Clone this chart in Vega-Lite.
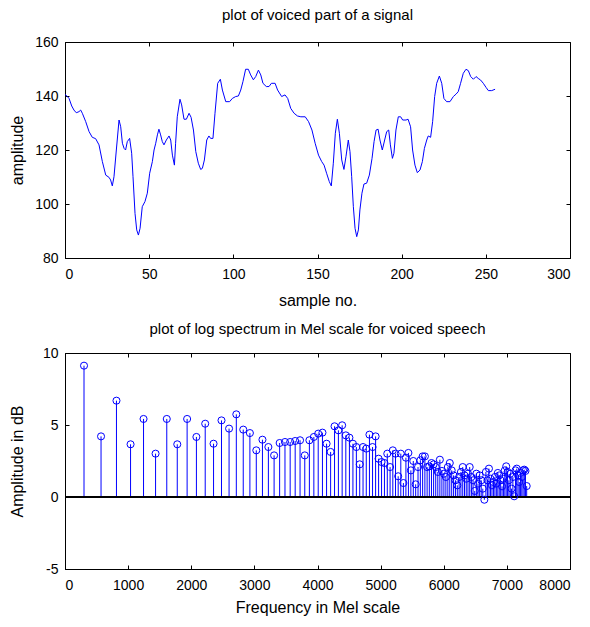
{
  "$schema": "https://vega.github.io/schema/vega-lite/v6.json",
  "autosize": {"type": "pad"},
  "padding": {"left": 8, "top": 7, "right": 5, "bottom": 3},
  "bounds": "flush",
  "spacing": 95,
  "background": "white",
  "config": {
    "font": "Liberation Sans",
    "view": {"stroke": "#000000", "strokeWidth": 1},
    "axis": {
      "grid": false, "domainColor": "#000000", "tickColor": "#000000",
      "labelColor": "#000000", "titleColor": "#000000",
      "labelFont": "Liberation Sans", "titleFont": "Liberation Sans",
      "labelFontSize": 14, "titleFontSize": 16, "titleFontWeight": "normal",
      "tickSize": -4
    },
    "axisX": {"labelPadding": 13},
    "axisY": {"labelPadding": 11},
    "title": {"font": "Liberation Sans", "fontSize": 15, "fontWeight": "normal", "color": "#000000"}
  },
  "datasets": {
    "signal": [
      {"n":0,"a":140.6},{"n":1.4,"a":139.8},{"n":2.4,"a":139.1},{"n":4,"a":136.3},{"n":5.3,"a":134.8},{"n":6.7,"a":133.8},{"n":8.3,"a":134.2},{"n":9.3,"a":134.8},{"n":10.3,"a":133.6},{"n":12.3,"a":130.5},{"n":14.3,"a":126.8},{"n":16.2,"a":124.7},{"n":18.2,"a":124.2},{"n":20.2,"a":121.9},{"n":22.2,"a":115.7},{"n":24.2,"a":110.7},{"n":26.1,"a":109.9},{"n":27.1,"a":108.9},{"n":28.1,"a":106.7},{"n":29.1,"a":110.1},{"n":30.5,"a":120},{"n":32.1,"a":131.1},{"n":33.1,"a":128.6},{"n":34.1,"a":122.5},{"n":35.1,"a":120.6},{"n":36,"a":120},{"n":37,"a":123.1},{"n":38.4,"a":124.3},{"n":39.6,"a":118.8},{"n":40.4,"a":110.1},{"n":41.6,"a":96.5},{"n":42.6,"a":90.4},{"n":43.6,"a":88.5},{"n":44.6,"a":91},{"n":45.9,"a":99},{"n":47.5,"a":100.9},{"n":48.9,"a":104},{"n":50.3,"a":111.4},{"n":51.9,"a":115.7},{"n":52.9,"a":120},{"n":53.9,"a":122.5},{"n":54.9,"a":125.6},{"n":55.8,"a":127.7},{"n":56.8,"a":125.6},{"n":57.8,"a":123.1},{"n":58.8,"a":121.9},{"n":60.2,"a":123.7},{"n":61.8,"a":125.2},{"n":62.8,"a":123.7},{"n":63.8,"a":118.1},{"n":65,"a":114.4},{"n":65.7,"a":122.5},{"n":66.7,"a":132.3},{"n":68.3,"a":138.8},{"n":69.3,"a":136.7},{"n":70.7,"a":131.4},{"n":72.1,"a":131.4},{"n":73.7,"a":133.6},{"n":74.9,"a":132.1},{"n":76.3,"a":127.4},{"n":77.7,"a":119.4},{"n":79.2,"a":115.1},{"n":80.6,"a":112.8},{"n":81.6,"a":113.2},{"n":82.8,"a":116.3},{"n":84.2,"a":123.7},{"n":85.5,"a":125.2},{"n":86.5,"a":124.3},{"n":87.9,"a":124.3},{"n":89.1,"a":133.6},{"n":90.7,"a":144.7},{"n":92.3,"a":146.2},{"n":93.5,"a":142.2},{"n":95.5,"a":137.9},{"n":97.8,"a":137.9},{"n":99.4,"a":139.1},{"n":101.4,"a":139.8},{"n":103,"a":140},{"n":104.4,"a":142.2},{"n":105.7,"a":145.3},{"n":107.3,"a":149.9},{"n":108.9,"a":149.9},{"n":110.3,"a":147.8},{"n":111.9,"a":146},{"n":113.3,"a":147.2},{"n":114.9,"a":149.6},{"n":116.3,"a":147.8},{"n":117.6,"a":144.7},{"n":119.6,"a":143.5},{"n":121.2,"a":143.5},{"n":122.6,"a":144.7},{"n":124.8,"a":144.7},{"n":126.3,"a":142.2},{"n":128.7,"a":139.8},{"n":130.7,"a":140.4},{"n":132.3,"a":139.1},{"n":134.1,"a":135.4},{"n":136.1,"a":133.6},{"n":138.1,"a":132.6},{"n":140.1,"a":132.3},{"n":142.7,"a":132.3},{"n":144.7,"a":130.5},{"n":146.7,"a":127.4},{"n":148.6,"a":122.5},{"n":150.6,"a":118.1},{"n":152.5,"a":115.7},{"n":153.9,"a":114.4},{"n":155.4,"a":111.4},{"n":157,"a":108.3},{"n":158.2,"a":106.7},{"n":159.4,"a":115.1},{"n":160.6,"a":126.2},{"n":161.8,"a":131.4},{"n":163,"a":126.2},{"n":164.4,"a":116.3},{"n":165.7,"a":112.8},{"n":166.9,"a":117.5},{"n":168.3,"a":123.7},{"n":169.3,"a":119.4},{"n":170.3,"a":110.1},{"n":171.3,"a":99},{"n":172.3,"a":91},{"n":173.3,"a":87.9},{"n":174.3,"a":90.4},{"n":175.2,"a":97.8},{"n":176.4,"a":104},{"n":177.6,"a":107.4},{"n":179.2,"a":107.7},{"n":180.8,"a":110.7},{"n":182.4,"a":116.9},{"n":183.6,"a":123.1},{"n":184.8,"a":127.4},{"n":186,"a":127.7},{"n":187.1,"a":123.7},{"n":188.5,"a":120},{"n":189.9,"a":123.7},{"n":191.1,"a":126.8},{"n":192.3,"a":127.4},{"n":193.3,"a":121.9},{"n":194.5,"a":116.9},{"n":195.4,"a":118.8},{"n":196.6,"a":127.4},{"n":198,"a":132.3},{"n":199.4,"a":132.3},{"n":200.6,"a":131.1},{"n":202.6,"a":131.1},{"n":203.8,"a":131.4},{"n":205.3,"a":128.6},{"n":206.5,"a":120},{"n":207.9,"a":114.4},{"n":209.3,"a":111.6},{"n":210.9,"a":112.6},{"n":212.3,"a":115.7},{"n":213.5,"a":120.6},{"n":214.9,"a":123.7},{"n":215.8,"a":125.2},{"n":217.2,"a":124.7},{"n":218.4,"a":130.5},{"n":219.6,"a":139.8},{"n":220.8,"a":144.7},{"n":222.4,"a":147.4},{"n":223.8,"a":144.7},{"n":225.1,"a":139.1},{"n":226.7,"a":137.9},{"n":228.7,"a":137.9},{"n":230.7,"a":139.8},{"n":232.3,"a":140.7},{"n":233.6,"a":141.6},{"n":235,"a":144.7},{"n":236.6,"a":148.4},{"n":238.2,"a":149.9},{"n":239.6,"a":149.4},{"n":241,"a":147.2},{"n":242.6,"a":146.2},{"n":244.2,"a":147.2},{"n":245.5,"a":146.5},{"n":246.9,"a":145.9},{"n":248.5,"a":144.7},{"n":250.1,"a":143.2},{"n":251.5,"a":142},{"n":253.5,"a":142},{"n":255.5,"a":142.5}
    ],
    "spectrum": [
      {"mel":301.2,"db":9.12},{"mel":570.9,"db":4.21},{"mel":815.3,"db":6.69},{"mel":1038.6,"db":3.66},{"mel":1244.3,"db":5.42},{"mel":1434.8,"db":3.01},{"mel":1612.2,"db":5.42},{"mel":1778.4,"db":3.66},{"mel":1934.5,"db":5.42},{"mel":2081.7,"db":4.17},
      {"mel":2221.1,"db":5.09},{"mel":2353.3,"db":3.7},{"mel":2479.2,"db":5.32},{"mel":2599.2,"db":4.75},{"mel":2713.9,"db":5.74},{"mel":2823.7,"db":4.68},{"mel":2929.1,"db":4.44},{"mel":3030.4,"db":3.24},{"mel":3127.9,"db":3.98},{"mel":3221.8,"db":3.47},
      {"mel":3312.5,"db":2.89},{"mel":3400.1,"db":3.75},{"mel":3484.8,"db":3.82},{"mel":3566.9,"db":3.82},{"mel":3646.4,"db":3.89},{"mel":3723.6,"db":3.94},{"mel":3798.5,"db":2.89},{"mel":3871.4,"db":3.94},{"mel":3942.2,"db":4.17},{"mel":4011.2,"db":4.4},
      {"mel":4078.4,"db":4.47},{"mel":4143.8,"db":3.7},{"mel":4207.7,"db":3.13},{"mel":4270.1,"db":4.91},{"mel":4331.0,"db":4.63},{"mel":4390.4,"db":4.98},{"mel":4448.6,"db":4.28},{"mel":4505.5,"db":4.12},{"mel":4561.2,"db":3.7},{"mel":4615.7,"db":3.47},
      {"mel":4669.0,"db":2.27},{"mel":4721.3,"db":3.47},{"mel":4772.6,"db":3.36},{"mel":4822.8,"db":4.33},{"mel":4872.1,"db":3.47},{"mel":4920.5,"db":4.21},{"mel":4968.0,"db":2.66},{"mel":5014.7,"db":2.43},{"mel":5060.5,"db":2.36},{"mel":5105.5,"db":3.01},
      {"mel":5149.8,"db":2.08},{"mel":5193.3,"db":3.24},{"mel":5236.1,"db":3.01},{"mel":5278.2,"db":1.44},{"mel":5319.6,"db":3.01},{"mel":5360.4,"db":0.97},{"mel":5400.6,"db":2.73},{"mel":5440.1,"db":3.06},{"mel":5479.1,"db":1.85},{"mel":5517.4,"db":2.5},
      {"mel":5555.2,"db":0.88},{"mel":5592.5,"db":2.08},{"mel":5629.3,"db":2.55},{"mel":5665.5,"db":2.82},{"mel":5701.2,"db":2.82},{"mel":5736.5,"db":2.08},{"mel":5771.3,"db":2.13},{"mel":5805.6,"db":2.36},{"mel":5839.5,"db":2.27},{"mel":5872.9,"db":2.08},
      {"mel":5905.9,"db":1.74},{"mel":5938.5,"db":2.59},{"mel":5970.7,"db":1.81},{"mel":6002.4,"db":1.62},{"mel":6033.8,"db":1.39},{"mel":6064.9,"db":2.08},{"mel":6095.5,"db":2.36},{"mel":6125.9,"db":1.85},{"mel":6155.8,"db":1.5},{"mel":6185.4,"db":1.16},
      {"mel":6214.7,"db":0.81},{"mel":6243.7,"db":1.39},{"mel":6272.3,"db":1.74},{"mel":6300.7,"db":2.08},{"mel":6328.7,"db":1.5},{"mel":6356.4,"db":1.27},{"mel":6383.8,"db":1.62},{"mel":6411.0,"db":2.08},{"mel":6437.8,"db":1.39},{"mel":6464.4,"db":1.16},
      {"mel":6490.7,"db":0.42},{"mel":6516.8,"db":1.62},{"mel":6542.6,"db":0.93},{"mel":6568.1,"db":1.5},{"mel":6593.4,"db":1.16},{"mel":6618.4,"db":0.58},{"mel":6643.2,"db":-0.19},{"mel":6667.8,"db":1.74},{"mel":6692.1,"db":1.16},{"mel":6716.2,"db":1.97},
      {"mel":6740.1,"db":1.27},{"mel":6763.8,"db":0.81},{"mel":6787.2,"db":1.04},{"mel":6810.5,"db":1.39},{"mel":6833.5,"db":0.93},{"mel":6856.3,"db":1.67},{"mel":6879.0,"db":1.5},{"mel":6901.4,"db":1.16},{"mel":6923.6,"db":0.74},{"mel":6945.7,"db":1.27},
      {"mel":6967.6,"db":1.85},{"mel":6989.3,"db":2.13},{"mel":7010.8,"db":1.74},{"mel":7032.1,"db":1.16},{"mel":7053.3,"db":1.62},{"mel":7074.2,"db":0.58},{"mel":7095.1,"db":1.39},{"mel":7115.7,"db":0.05},{"mel":7136.3,"db":1.85},{"mel":7156.6,"db":1.97},
      {"mel":7176.8,"db":1.5},{"mel":7196.8,"db":1.04},{"mel":7216.6,"db":1.67},{"mel":7236.3,"db":1.39},{"mel":7255.9,"db":1.85},{"mel":7275.3,"db":1.9},{"mel":7294.6,"db":1.81},{"mel":7313.7,"db":0.76}
    ]
  },
  "vconcat": [
    {
      "width": 505,
      "height": 216,
      "title": {"text": "plot of voiced part of a signal", "offset": 12},
      "data": {"name": "signal"},
      "resolve": {"axis": {"x": "independent", "y": "independent"}},
      "layer": [
        {
          "mark": {"type": "line", "color": "#0000ff", "strokeWidth": 1, "interpolate": "linear"},
          "encoding": {
            "x": {"field": "n", "type": "quantitative", "scale": {"domain": [0, 300], "nice": false, "zero": false},
                  "axis": {"title": "sample no.", "values": [0, 50, 100, 150, 200, 250, 300], "titleY": 42, "titleBaseline": "middle"}},
            "y": {"field": "a", "type": "quantitative", "scale": {"domain": [80, 160], "nice": false, "zero": false},
                  "axis": {"title": "amplitude", "values": [80, 100, 120, 140, 160], "titleX": -48, "titleBaseline": "middle", "titleAlign": "center"}}
          }
        },
        {
          "mark": {"type": "point", "opacity": 0},
          "encoding": {
            "x": {"field": "n", "type": "quantitative", "axis": {"orient": "top", "labels": false, "title": null, "domain": false, "values": [0, 50, 100, 150, 200, 250, 300]}},
            "y": {"field": "a", "type": "quantitative", "axis": {"orient": "right", "labels": false, "title": null, "domain": false, "values": [80, 100, 120, 140, 160]}}
          }
        }
      ]
    },
    {
      "width": 505,
      "height": 216,
      "title": {"text": "plot of log spectrum in Mel scale for voiced speech", "offset": 9},
      "data": {"name": "spectrum"},
      "resolve": {"axis": {"x": "independent", "y": "independent"}},
      "layer": [
        {
          "mark": {"type": "rule", "color": "#0000ff", "strokeWidth": 1},
          "encoding": {
            "x": {"field": "mel", "type": "quantitative", "scale": {"domain": [0, 8000], "nice": false},
                  "axis": {"title": "Frequency in Mel scale", "format": "d", "values": [0, 1000, 2000, 3000, 4000, 5000, 6000, 7000, 8000], "titleY": 38, "titleBaseline": "middle"}},
            "y": {"field": "db", "type": "quantitative", "scale": {"domain": [-5, 10], "nice": false},
                  "axis": {"title": "Amplitude in dB", "values": [-5, 0, 5, 10], "labelExpr": "'' + datum.value", "titleX": -48, "titleBaseline": "middle", "titleAlign": "center"}},
            "y2": {"datum": 0}
          }
        },
        {
          "mark": {"type": "rule", "color": "#000000", "strokeWidth": 1},
          "encoding": {"y": {"datum": 0, "axis": null}}
        },
        {
          "mark": {"type": "point", "shape": "circle", "filled": false, "color": "#0000ff", "size": 50, "strokeWidth": 1, "opacity": 1},
          "encoding": {
            "x": {"field": "mel", "type": "quantitative", "axis": {"orient": "top", "labels": false, "title": null, "domain": false, "values": [0, 1000, 2000, 3000, 4000, 5000, 6000, 7000, 8000]}},
            "y": {"field": "db", "type": "quantitative", "axis": {"orient": "right", "labels": false, "title": null, "domain": false, "values": [-5, 0, 5, 10]}}
          }
        }
      ]
    }
  ]
}
